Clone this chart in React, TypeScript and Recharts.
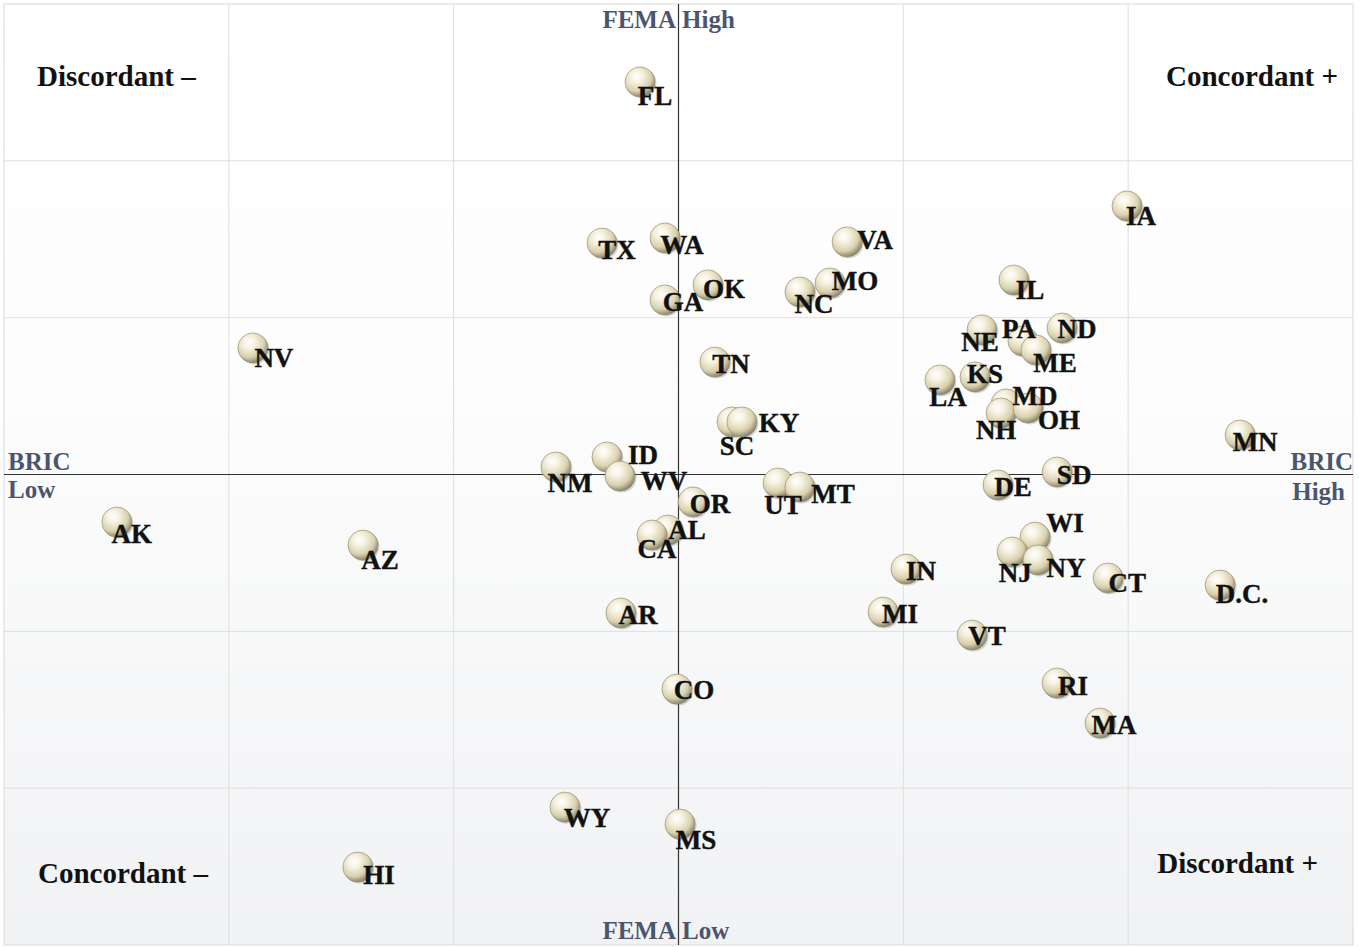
import React from 'react';
import {
  ScatterChart, Scatter, XAxis, YAxis, ReferenceLine, ReferenceArea,
} from 'recharts';

// states (and D.C.), BRIC score on x, FEMA score on y
const STATES = [
  'FL', 'IA', 'TX', 'WA', 'VA', 'OK', 'MO', 'NC', 'GA', 'IL',
  'NV', 'TN', 'NE', 'PA', 'ME', 'ND', 'KS', 'LA', 'MD', 'NH',
  'OH', 'SC', 'KY', 'MN', 'ID', 'NM', 'WV', 'SD', 'DE', 'UT',
  'MT', 'OR', 'AK', 'AL', 'CA', 'WI', 'AZ', 'NJ', 'NY', 'IN',
  'CT', 'D.C.', 'MI', 'AR', 'VT', 'RI', 'CO', 'MA', 'WY', 'MS',
  'HI',
];
const BRIC = [
  -0.171, 1.995, -0.340, -0.060, 0.750, 0.131, 0.674, 0.540, -0.060, 1.492,
  -1.893, 0.162, 1.350, 1.532, 1.590, 1.706, 1.319, 1.163, 1.457, 1.435,
  1.555, 0.238, 0.282, 2.498, -0.318, -0.545, -0.260, 1.684, 1.421, 0.443,
  0.540, 0.065, -2.498, -0.047, -0.118, 1.586, -1.403, 1.484, 1.599, 1.012,
  1.911, 2.409, 0.910, -0.256, 1.306, 1.684, -0.007, 1.875, -0.505, 0.007,
  -1.426,
];
const FEMA = [
  2.503, 1.712, 1.476, 1.508, 1.483, 1.209, 1.221, 1.164, 1.113, 1.240,
  0.807, 0.717, 0.922, 0.851, 0.794, 0.934, 0.622, 0.603, 0.450, 0.392,
  0.424, 0.335, 0.335, 0.252, 0.112, 0.048, -0.010, 0.016, -0.067, -0.054,
  -0.080, -0.175, -0.303, -0.354, -0.386, -0.399, -0.450, -0.494, -0.545, -0.603,
  -0.660, -0.705, -0.877, -0.883, -1.024, -1.330, -1.368, -1.585, -2.121, -2.229,
  -2.503,
];
const GRID_X = [-2, -1, 1, 2];
const GRID_Y = [-2, -1, 1, 2];

// label placement relative to the ball centre (px), to dodge overlaps
const LABEL_OFFSET: Record<string, [number, number]> = {
  FL: [15, 14], IA: [14, 10], TX: [15, 7], WA: [17, 7], VA: [28, -2],
  OK: [16, 4], MO: [25, -2], NC: [14, 12], GA: [18, 2], IL: [16, 10],
  NV: [21, 10], TN: [16, 2], NE: [-2, 12], PA: [-4, -12], ME: [19, 13],
  ND: [15, 1], KS: [10, -3], LA: [8, 17], MD: [29, -8], NH: [-5, 17],
  OH: [31, 12], SC: [5, 24], KY: [37, 1], MN: [15, 7], ID: [36, -2],
  NM: [14, 16], WV: [44, 5], SD: [17, 3], DE: [15, 2], UT: [5, 22],
  MT: [33, 7], OR: [17, 2], AK: [15, 12], AL: [19, 0], CA: [5, 14],
  WI: [30, -14], AZ: [17, 15], NJ: [3, 21], NY: [28, 8], IN: [15, 2],
  CT: [19, 5], 'D.C.': [22, 9], MI: [17, 2], AR: [17, 2], VT: [15, 1],
  RI: [16, 3], CO: [17, 1], MA: [14, 2], WY: [22, 11], MS: [16, 16],
  HI: [21, 8],
};

const data = STATES.map((s, i) => ({ state: s, x: BRIC[i], y: FEMA[i] }));

const SERIF = '"Liberation Serif", "Times New Roman", serif';
const AXIS_COLOR = '#4b5570';

const Ball = (props: any) => {
  const { cx, cy } = props;
  return (
    <g>
      <circle cx={cx + 1.5} cy={cy + 1.5} r={15} fill="rgba(80,80,70,0.22)" />
      <circle cx={cx} cy={cy} r={15} fill="url(#ball)" stroke="#958f74" strokeWidth={0.7} />
    </g>
  );
};

const StateLabel = (props: any) => {
  const { cx, cy, payload } = props;
  const [dx, dy] = LABEL_OFFSET[payload.state] || [15, 5];
  return (
    <text
      x={cx + dx}
      y={cy + dy + 9}
      textAnchor="middle"
      fontFamily={SERIF}
      fontWeight="bold"
      fontSize={27}
      fill="#111"
      stroke="#111"
      strokeWidth={0.4}
    >
      {payload.state}
    </text>
  );
};

const quadStyle = { fontFamily: SERIF, fontWeight: 'bold' as const, fontSize: 29, fill: '#111' };
const axisStyle = { fontFamily: SERIF, fontWeight: 'bold' as const, fontSize: 25, fill: AXIS_COLOR };

export default function App() {
  return (
    <div style={{ position: 'absolute', left: 0, top: 0, width: 1359, height: 947, background: '#fff' }}>
      <ScatterChart width={1359} height={947} margin={{ top: 4, right: 6, bottom: 2, left: 4 }}>
        <defs>
          <radialGradient id="ball" cx="38%" cy="32%" r="70%">
            <stop offset="0%" stopColor="#ffffff" />
            <stop offset="30%" stopColor="#f5f1df" />
            <stop offset="70%" stopColor="#d9d0ad" />
            <stop offset="100%" stopColor="#85806a" />
          </radialGradient>
          <linearGradient id="bg" x1="0" y1="0" x2="0" y2="1">
            <stop offset="0%" stopColor="#ffffff" />
            <stop offset="40%" stopColor="#fdfdfd" />
            <stop offset="100%" stopColor="#f1f2f4" />
          </linearGradient>
        </defs>
        <XAxis type="number" dataKey="x" domain={[-3, 3]} allowDataOverflow hide />
        <YAxis type="number" dataKey="y" domain={[-3, 3]} allowDataOverflow hide />
        <ReferenceArea x1={-3} x2={3} y1={-3} y2={3} fill="url(#bg)" fillOpacity={1} stroke="#d9d9d9" />
        {GRID_X.map((v) => (
          <ReferenceLine key={'gx' + v} x={v} stroke="#dedede" strokeWidth={1} />
        ))}
        {GRID_Y.map((v) => (
          <ReferenceLine key={'gy' + v} y={v} stroke="#dedede" strokeWidth={1} />
        ))}
        <ReferenceLine x={0} stroke="#333" strokeWidth={1.2} />
        <ReferenceLine y={0} stroke="#333" strokeWidth={1.2} />
        <Scatter data={data} shape={Ball} isAnimationActive={false} />
        <Scatter data={data} shape={StateLabel} isAnimationActive={false} />
      </ScatterChart>

      {/* quadrant and axis captions, drawn over the chart */}
      <svg
        width={1359}
        height={947}
        style={{ position: 'absolute', left: 0, top: 0, pointerEvents: 'none' }}
      >
        <text x={37} y={86} {...quadStyle}>Discordant –</text>
        <text x={1338} y={86} textAnchor="end" {...quadStyle}>Concordant +</text>
        <text x={38} y={883} {...quadStyle}>Concordant –</text>
        <text x={1318} y={873} textAnchor="end" {...quadStyle}>Discordant +</text>

        <text x={676} y={28} textAnchor="end" {...axisStyle}>FEMA</text>
        <text x={682} y={28} {...axisStyle}>High</text>
        <text x={676} y={939} textAnchor="end" {...axisStyle}>FEMA</text>
        <text x={682} y={939} {...axisStyle}>Low</text>
        <text x={8} y={470} {...axisStyle}>BRIC</text>
        <text x={8} y={498} {...axisStyle}>Low</text>
        <text x={1353} y={470} textAnchor="end" {...axisStyle}>BRIC</text>
        <text x={1345} y={500} textAnchor="end" {...axisStyle}>High</text>
      </svg>
    </div>
  );
}
